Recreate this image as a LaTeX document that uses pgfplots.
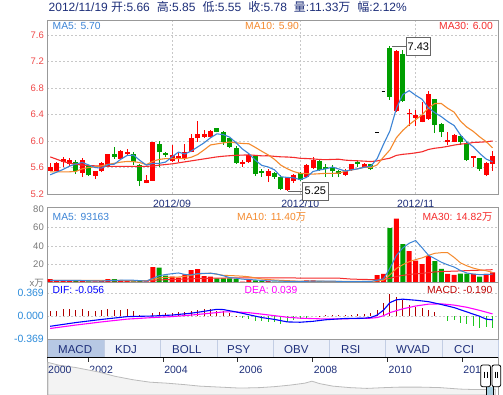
\documentclass[border=0pt]{standalone}
\usepackage{fontspec}
\setmainfont{Liberation Sans}
\newfontfamily\cjk{Noto Sans CJK SC}
\usepackage{pgfplots}
\usepackage{pgfplotstable}
\pgfplotsset{compat=1.18}

\definecolor{navy}{HTML}{1E2F7A}
\definecolor{ma5}{HTML}{3C84D6}
\definecolor{ma10}{HTML}{F58A2D}
\definecolor{ma30}{HTML}{F52C2C}
\definecolor{cred}{HTML}{FF0000}
\definecolor{cgreen}{HTML}{009E00}
\definecolor{pricelab}{HTML}{F04848}
\definecolor{vollab}{HTML}{777777}
\definecolor{macdlab}{HTML}{2D8CDB}
\definecolor{gridc}{HTML}{C8C8C8}
\definecolor{framec}{HTML}{999999}
\definecolor{difc}{HTML}{0000FF}
\definecolor{deac}{HTML}{FF00FF}
\definecolor{histr}{HTML}{B00000}
\definecolor{histg}{HTML}{1DC81D}
\definecolor{tabbg}{HTML}{EDF1FA}
\definecolor{tabsel}{HTML}{B7C8E4}
\definecolor{tabline}{HTML}{C3CEE4}
\definecolor{navline}{HTML}{BBBBBB}
\definecolor{navfill}{HTML}{F3F3F3}
\definecolor{selblue}{HTML}{A8CFE0}

\newcommand{\fs}[1]{\fontsize{#1bp}{#1bp}\selectfont}

\pgfplotstableread{
i ma5 ma10 ma30
0 5.49 5.535 5.76
1 5.53 5.535 5.725
2 5.57 5.535 5.69
3 5.62 5.535 5.665
4 5.652 5.54 5.648
5 5.676 5.58 5.637
6 5.638 5.60 5.63
7 5.600 5.61 5.625
8 5.590 5.625 5.62
9 5.642 5.647 5.618
10 5.650 5.663 5.618
11 5.724 5.681 5.618
12 5.782 5.691 5.618
13 5.786 5.688 5.618
14 5.706 5.674 5.618
15 5.636 5.643 5.618
16 5.662 5.693 5.622
17 5.662 5.722 5.635
18 5.682 5.734 5.645
19 5.760 5.733 5.655
20 5.832 5.734 5.67
21 5.804 5.733 5.685
22 5.848 5.755 5.70
23 5.910 5.796 5.715
24 5.972 5.866 5.73
25 6.048 5.940 5.745
26 6.108 5.956 5.76
27 6.096 5.972 5.77
28 6.058 5.984 5.778
29 5.972 5.972 5.784
30 5.878 5.963 5.787
31 5.808 5.958 5.791
32 5.710 5.903 5.783
33 5.632 5.845 5.776
34 5.608 5.790 5.777
35 5.564 5.721 5.768
36 5.460 5.634 5.761
37 5.450 5.580 5.758
38 5.444 5.538 5.752
39 5.416 5.512 5.739
40 5.452 5.508 5.735
41 5.540 5.500 5.730
42 5.562 5.506 5.721
43 5.580 5.512 5.718
44 5.606 5.511 5.722
45 5.578 5.515 5.725
46 5.546 5.543 5.711
47 5.564 5.563 5.705
48 5.580 5.580 5.701
49 5.604 5.605 5.696
50 5.618 5.598 5.690
51 5.734 5.640 5.699
52 5.952 5.758 5.722
53 6.154 5.867 5.741
54 6.494 6.049 5.783
55 6.702 6.160 5.799
56 6.760 6.247 5.808
57 6.690 6.321 5.821
58 6.630 6.394 5.837
59 6.500 6.499 5.872
60 6.426 6.566 5.891
61 6.368 6.566 5.902
62 6.294 6.494 5.919
63 6.234 6.436 5.938
64 6.090 6.299 5.953
65 5.984 6.209 5.961
66 5.912 6.144 5.978
67 5.812 6.062 5.982
68 5.728 5.990 5.988
69 5.686 5.897 6.000
}\pricema

\pgfplotstableread{
i v5 v10 v30
0 2.5 2.5 2.0
1 2.5 2.5 2.0
2 2.5 2.5 2.0
3 2.6 2.5 2.0
4 2.66 2.5 2.0
5 2.36 2.5 2.0
6 2.16 2.5 2.0
7 1.96 2.5 2.0
8 1.82 2.5 2.0
9 2.26 2.46 2.0
10 2.56 2.46 2.0
11 2.70 2.43 2.0
12 2.76 2.36 2.0
13 2.70 2.26 2.0
14 2.26 2.26 2.0
15 1.76 2.16 2.0
16 4.74 3.72 2.5
17 7.66 5.21 3.0
18 8.88 5.79 3.3
19 9.82 6.04 3.5
20 10.62 6.19 3.7
21 9.02 6.88 3.9
22 8.50 8.08 4.2
23 9.96 9.42 4.5
24 10.12 9.97 4.7
25 10.32 10.47 4.9
26 9.44 9.23 5.0
27 7.62 8.06 5.1
28 5.58 7.77 5.2
29 4.92 7.52 5.34
30 3.84 7.08 5.24
31 3.48 6.46 5.26
32 3.04 5.33 5.26
33 2.46 4.02 5.23
34 2.02 3.47 5.23
35 2.02 2.93 5.19
36 1.66 2.57 5.17
37 1.46 2.25 5.17
38 1.40 1.93 5.16
39 1.26 1.64 5.07
40 1.54 1.78 5.02
41 1.82 1.74 5.03
42 1.82 1.64 5.02
43 1.74 1.57 5.00
44 1.74 1.50 4.98
45 1.46 1.50 4.97
46 1.18 1.50 4.43
47 1.18 1.50 3.94
48 1.26 1.50 3.73
49 1.34 1.54 3.57
50 1.34 1.40 3.42
51 2.72 1.99 3.40
52 4.32 2.79 3.25
53 15.92 8.63 4.74
54 29.70 15.52 6.83
55 37.88 19.61 8.01
56 43.10 22.95 9.01
57 46.00 25.20 9.65
58 38.16 27.08 10.17
59 29.96 29.83 11.00
60 26.26 32.07 11.75
61 22.36 32.73 12.15
62 19.48 32.74 12.39
63 17.12 27.64 12.61
64 13.28 21.62 12.88
65 10.54 18.40 13.17
66 9.44 15.90 13.45
67 8.82 14.15 13.62
68 9.02 13.07 13.88
69 9.33 11.30 14.22
}\volma

\pgfplotsset{
  panel/.style={scale only axis, width=451bp, xmin=-0.5, xmax=69.85,
    axis line style={draw=framec, line width=0.8bp},
    major tick length=0pt,
    grid style={draw=gridc, line width=0.6bp, dash pattern=on 2bp off 2bp},
    clip mode=individual,
    yticklabel style={inner sep=0pt, xshift=-3bp, anchor=east},
    unbounded coords=jump},
}

\begin{document}
\begin{tikzpicture}
\path[use as bounding box] (0,0) rectangle (503bp,-395bp);
\fill[white] (0,0) rectangle (503bp,-395bp);

% title
\node[anchor=base west, inner sep=0pt, text=navy, font=\fs{12}] at (48.5bp,-11.7bp)
 {2012/11/19 {\cjk 开}:5.66\hspace{7bp}{\cjk 高}:5.85\hspace{7bp}{\cjk 低}:5.55\hspace{7bp}{\cjk 收}:5.78\hspace{7bp}{\cjk 量}:11.33{\cjk 万}\hspace{7bp}{\cjk 幅}:2.12\%};

% ---------------- price panel
\begin{axis}[panel, at={(47bp,-194bp)}, anchor=south west, height=174bp,
  ymin=5.2, ymax=7.826,
  ytick={5.2,5.6,6.0,6.4,6.8,7.2,7.6}, yticklabels={5.2,5.6,6.0,6.4,6.8,7.2,7.6},
  yticklabel style={font=\fs{9.5}, text=pricelab},
  xtick={19,39,57}, xticklabels={2012/09,2012/10,2012/11},
  xticklabel style={font=\fs{10.5}, text=navy, inner sep=0pt, anchor=base, yshift=-13bp},
  xmajorgrids, ymajorgrids]
% red wicks
\addplot[cred, line width=1bp] coordinates {
(0,5.55)(0,5.67)(0,nan)(1,5.54)(1,5.68)(1,nan)(2,5.61)(2,5.76)(2,nan)(3,5.62)(3,5.75)(3,nan)
(5,5.46)(5,5.74)(5,nan)(7,5.43)(7,5.54)(7,nan)(8,5.53)(8,5.68)(8,nan)(9,5.60)(9,5.81)(9,nan)
(11,5.71)(11,5.87)(11,nan)(12,5.77)(12,5.88)(12,nan)(15,5.36)(15,5.49)(15,nan)(16,5.40)(16,5.98)(16,nan)
(19,5.68)(19,5.94)(19,nan)(20,5.68)(20,5.83)(20,nan)(21,5.71)(21,5.96)(21,nan)(22,5.83)(22,6.11)(22,nan)
(23,5.99)(23,6.30)(23,nan)(24,6.05)(24,6.17)(24,nan)(25,6.04)(25,6.16)(25,nan)(30,5.61)(30,5.72)(30,nan)
(31,5.67)(31,5.82)(31,nan)(34,5.38)(34,5.57)(34,nan)(37,5.25)(37,5.46)(37,nan)(38,5.37)(38,5.50)(38,nan)
(40,5.44)(40,5.66)(40,nan)(41,5.57)(41,5.76)(41,nan)(46,5.47)(46,5.57)(46,nan)(47,5.55)(47,5.66)(47,nan)
(49,5.59)(49,5.67)(49,nan)(54,6.44)(54,7.37)(54,nan)(56,6.22)(56,6.49)(56,nan)(57,6.22)(57,6.47)(57,nan)
(58,6.28)(58,6.59)(58,nan)(59,6.32)(59,6.76)(59,nan)(62,5.94)(62,6.13)(62,nan)(63,5.98)(63,6.11)(63,nan)
(66,5.61)(66,5.77)(66,nan)(68,5.47)(68,5.69)(68,nan)(69,5.55)(69,5.85)};
% red bodies
\addplot[cred, line width=5bp] coordinates {
(0,5.55)(0,5.60)(0,nan)(1,5.55)(1,5.67)(1,nan)(2,5.68)(2,5.73)(2,nan)(3,5.66)(3,5.72)(3,nan)
(5,5.52)(5,5.72)(5,nan)(7,5.47)(7,5.54)(7,nan)(8,5.54)(8,5.67)(8,nan)(9,5.60)(9,5.80)(9,nan)
(11,5.73)(11,5.85)(11,nan)(12,5.80)(12,5.83)(12,nan)(15,5.37)(15,5.41)(15,nan)(16,5.40)(16,5.98)(16,nan)
(19,5.70)(19,5.79)(19,nan)(20,5.73)(20,5.77)(20,nan)(21,5.73)(21,5.84)(21,nan)(22,5.84)(22,6.05)(22,nan)
(23,6.04)(23,6.10)(23,nan)(24,6.06)(24,6.10)(24,nan)(25,6.06)(25,6.15)(25,nan)(30,5.66)(30,5.68)(30,nan)
(31,5.68)(31,5.79)(31,nan)(34,5.47)(34,5.55)(34,nan)(37,5.26)(37,5.45)(37,nan)(38,5.39)(38,5.49)(38,nan)
(40,5.46)(40,5.64)(40,nan)(41,5.59)(41,5.71)(41,nan)(46,5.49)(46,5.55)(46,nan)(47,5.56)(47,5.65)(47,nan)
(49,5.60)(49,5.66)(49,nan)(54,6.46)(54,7.36)(54,nan)(56,6.40)(56,6.42)(56,nan)(57,6.34)(57,6.39)(57,nan)
(58,6.29)(58,6.39)(58,nan)(59,6.33)(59,6.71)(59,nan)(62,5.99)(62,6.02)(62,nan)(63,5.99)(63,6.09)(63,nan)
(66,5.74)(66,5.77)(66,nan)(68,5.49)(68,5.67)(68,nan)(69,5.66)(69,5.78)};
% green wicks
\addplot[cgreen, line width=1bp] coordinates {
(4,5.50)(4,5.71)(4,nan)(6,5.47)(6,5.63)(6,nan)(10,5.73)(10,5.91)(10,nan)(13,5.64)(13,5.83)(13,nan)
(14,5.32)(14,5.66)(14,nan)(17,5.61)(17,6.00)(17,nan)(18,5.76)(18,5.84)(18,nan)(26,6.13)(26,6.20)(26,nan)
(27,5.94)(27,6.15)(27,nan)(28,5.89)(28,6.05)(28,nan)(29,5.66)(29,5.93)(29,nan)(32,5.47)(32,5.78)(32,nan)
(33,5.46)(33,5.57)(33,nan)(35,5.43)(35,5.53)(35,nan)(36,5.26)(36,5.48)(36,nan)(39,5.40)(39,5.53)(39,nan)
(42,5.55)(42,5.71)(42,nan)(43,5.46)(43,5.65)(43,nan)(44,5.46)(44,5.64)(44,nan)(45,5.45)(45,5.56)(45,nan)
(48,5.60)(48,5.71)(48,nan)(50,5.56)(50,5.66)(50,nan)(53,6.62)(53,7.43)(53,nan)(55,6.59)(55,7.38)(55,nan)
(60,6.12)(60,6.64)(60,nan)(61,6.06)(61,6.27)(61,nan)(64,5.94)(64,6.11)(64,nan)(65,5.70)(65,5.98)(65,nan)
(67,5.55)(67,5.75)};
% green bodies
\addplot[cgreen, line width=5bp] coordinates {
(4,5.54)(4,5.68)(4,nan)(6,5.48)(6,5.62)(6,nan)(10,5.76)(10,5.80)(10,nan)(13,5.69)(13,5.81)(13,nan)
(14,5.40)(14,5.64)(14,nan)(17,5.83)(17,5.96)(17,nan)(18,5.79)(18,5.82)(18,nan)(26,6.14)(26,6.19)(26,nan)
(27,5.99)(27,6.14)(27,nan)(28,5.91)(28,6.04)(28,nan)(29,5.67)(29,5.90)(29,nan)(32,5.50)(32,5.77)(32,nan)
(33,5.52)(33,5.54)(33,nan)(35,5.46)(35,5.51)(35,nan)(36,5.27)(36,5.46)(36,nan)(39,5.41)(39,5.51)(39,nan)
(42,5.56)(42,5.70)(42,nan)(43,5.58)(43,5.60)(43,nan)(44,5.54)(44,5.61)(44,nan)(45,5.50)(45,5.54)(45,nan)
(48,5.66)(48,5.68)(48,nan)(50,5.57)(50,5.65)(50,nan)(53,6.67)(53,7.41)(53,nan)(55,6.61)(55,7.32)(55,nan)
(60,6.24)(60,6.63)(60,nan)(61,6.13)(61,6.26)(61,nan)(64,5.99)(64,6.08)(64,nan)(65,5.71)(65,5.97)(65,nan)
(67,5.57)(67,5.74)};
% one-price limit-up days
\addplot[black, line width=1bp] coordinates {(50.7,6.13)(51.3,6.13)(51,nan)(51.7,6.74)(52.3,6.74)};
% moving averages
\addplot[ma30, line width=1.1bp] table[x=i, y=ma30] {\pricema};
\addplot[ma10, line width=1.1bp] table[x=i, y=ma10] {\pricema};
\addplot[ma5, line width=1.1bp] table[x=i, y=ma5] {\pricema};
% max / min annotations
\draw[black!60, line width=0.8bp] (axis cs:53.3,7.43) -- (axis cs:55.5,7.43);
\node[draw=black!60, line width=0.8bp, fill=white, anchor=west, inner sep=0pt, minimum width=24bp, minimum height=18bp, font=\fs{11}] at (axis cs:55.5,7.43) {7.43};
\draw[black!60, line width=0.8bp] (axis cs:37.1,5.243) -- (axis cs:39.3,5.243);
\node[draw=black!60, line width=0.8bp, fill=white, anchor=west, inner sep=0pt, minimum width=25.6bp, minimum height=17.7bp, font=\fs{11}] at (axis cs:39.3,5.243) {5.25};
\end{axis}

\node[anchor=base west, inner sep=0pt, text=ma5, font=\fs{10.3}] at (52.5bp,-29.3bp) {MA5: 5.70};
\node[anchor=base west, inner sep=0pt, text=ma10, font=\fs{10.3}] at (245bp,-29.3bp) {MA10: 5.90};
\node[anchor=base east, inner sep=0pt, text=ma30, font=\fs{10.3}] at (493bp,-29.3bp) {MA30: 6.00};

% ---------------- volume panel
\begin{axis}[panel, at={(47bp,-282.7bp)}, anchor=south west, height=75bp,
  ymin=0, ymax=81.8,
  ytick={20,40,60}, yticklabels={20,40,60},
  yticklabel style={font=\fs{9.5}, text=vollab},
  xtick={19,39,57}, xticklabels={},
  xmajorgrids, ymajorgrids]
\addplot[ybar, bar width=5bp, bar shift=0pt, fill=cred, draw=none] coordinates {
(0,4.0)(1,2.5)(2,2.5)(3,2.5)(5,2.5)(7,1.5)(8,1.8)(9,4.0)(11,2.2)(12,1.8)(15,1.5)(16,17.1)
(19,6.5)(20,5.5)(21,9.1)(22,13.8)(23,14.9)(24,7.3)(25,6.5)(30,1.1)(31,2.9)(34,1.8)(37,1.5)(38,1.5)
(40,2.5)(41,2.5)(46,1.1)(47,1.5)(49,1.5)(51,8.4)(52,9.5)(54,70)(56,34.5)(57,24)(58,20.3)(59,29)
(62,9.6)(63,8.5)(66,9.5)(68,9.5)(69,11.33)};
\addplot[ybar, bar width=5bp, bar shift=0pt, fill=cgreen, draw=none] coordinates {
(4,1.8)(6,1.5)(10,4.0)(13,1.5)(14,1.8)(17,16.4)(18,7.6)(26,4.7)(27,4.7)(28,4.7)(29,4.0)(32,2.5)
(33,1.8)(35,1.1)(36,1.1)(39,1.1)(42,1.5)(43,1.1)(44,1.1)(45,1.1)(48,1.5)(50,1.1)(53,59.5)(55,42)
(60,23.5)(61,15)(64,9.8)(65,9.8)(67,6.5)};
\addplot[ma30, line width=1bp] table[x=i, y=v30] {\volma};
\addplot[ma10, line width=1bp] table[x=i, y=v10] {\volma};
\addplot[ma5, line width=1bp] table[x=i, y=v5] {\volma};
\end{axis}

\node[anchor=east, inner sep=0pt, text=vollab, font=\fs{9.5}] at (44bp,-209bp) {80};
\node[anchor=east, inner sep=0pt, text=vollab, font=\fs{9.5}] at (44bp,-283bp) {x{\cjk 万}};
\node[anchor=base west, inner sep=0pt, text=ma5, font=\fs{10.3}] at (52.5bp,-220.7bp) {MA5: 93163};
\node[anchor=base west, inner sep=0pt, text=ma10, font=\fs{10.3}] at (237bp,-220.7bp) {MA10: 11.40{\cjk 万}};
\node[anchor=base east, inner sep=0pt, text=ma30, font=\fs{10.3}] at (492.5bp,-220.7bp) {MA30: 14.82{\cjk 万}};

% ---------------- MACD panel
\begin{axis}[panel, at={(47bp,-339.5bp)}, anchor=south west, height=56.8bp,
  ymin=-0.372, ymax=0.539,
  ytick={-0.369,0,0.369}, yticklabels={-0.369,0.000,0.369},
  yticklabel style={font=\fs{10.5}, text=macdlab},
  xtick=\empty, ymajorgrids]
\addplot[ycomb, histr, line width=1bp] coordinates {
(0,.08)(1,.09)(2,.118)(3,.118)(4,.107)(5,.118)(6,.091)(7,.091)(8,.10)(9,.118)(10,.10)(11,.107)
(12,.118)(13,.091)(14,.02)(16,.053)(17,.064)(18,.053)(19,.053)(20,.064)(21,.075)(22,.091)(23,.10)
(24,.118)(25,.118)(26,.091)(27,.08)(28,.053)(29,.01)(42,.01)(43,.02)(44,.02)(45,.02)(46,.02)(47,.02)
(48,.037)(49,.037)(50,.048)(51,.10)(52,.209)(53,.358)(54,.315)(55,.262)(56,.187)(57,.155)(58,.134)
(59,.10)(60,.064)};
\addplot[ycomb, histg, line width=1bp] coordinates {
(30,-.032)(31,-.043)(32,-.08)(33,-.08)(34,-.096)(35,-.096)(36,-.123)(37,-.096)(38,-.059)(39,-.043)
(40,-.032)(62,-.07)(63,-.059)(64,-.112)(65,-.123)(66,-.15)(67,-.193)(68,-.176)(69,-.19)};
\addplot[deac, line width=1.1bp] coordinates {
(0,-0.195)(4,-0.14)(8,-0.09)(12,-0.045)(16,-0.02)(19,-0.005)(22,0.02)(25,0.05)(27,0.07)(29,0.07)
(31,0.058)(33,0.035)(35,0.01)(37,-0.015)(39,-0.03)(42,-0.04)(46,-0.04)(50,-0.03)(51,-0.02)(52,0.01)
(53,0.06)(55,0.12)(57,0.165)(59,0.195)(61,0.2)(63,0.18)(65,0.145)(67,0.095)(69,0.039)};
\addplot[difc, line width=1.1bp] coordinates {
(0,-0.16)(4,-0.10)(8,-0.05)(12,-0.005)(16,0.005)(19,0.02)(22,0.05)(24,0.08)(26,0.112)(27,0.108)
(29,0.07)(31,0.025)(33,-0.02)(35,-0.05)(37,-0.09)(39,-0.095)(41,-0.08)(43,-0.055)(46,-0.035)(49,-0.03)
(50,-0.02)(51,0.02)(52,0.10)(53,0.22)(54,0.265)(55,0.275)(57,0.258)(59,0.235)(61,0.19)(63,0.14)
(65,0.07)(67,0.0)(68,-0.045)(69,-0.056)};
\end{axis}

\node[anchor=base west, inner sep=0pt, text=difc, font=\fs{10.3}] at (52.5bp,-293bp) {DIF: -0.056};
\node[anchor=base west, inner sep=0pt, text=deac, font=\fs{10.3}] at (244.5bp,-293bp) {DEA: 0.039};
\node[anchor=base east, inner sep=0pt, text=histr!80!red, font=\fs{10.3}] at (492.5bp,-293bp) {MACD: -0.190};

% ---------------- tabs
\fill[tabbg] (47bp,-340bp) rectangle (498bp,-357.5bp);
\fill[tabsel] (47bp,-340bp) rectangle (104bp,-357.5bp);
\foreach \x in {104,160,217,273,329,385,442,498}
  \draw[tabline, line width=0.8bp] (\x bp,-340bp) -- (\x bp,-357.5bp);
\draw[framec, line width=0.8bp] (47bp,-340bp) -- (47bp,-357.5bp);
\foreach \x/\t in {58/MACD,115/KDJ,172/BOLL,227/PSY,284/OBV,341/RSI,396/WVAD,454/CCI}
  \node[anchor=base west, inner sep=0pt, text=navy, font=\fs{11.5}] at (\x bp,-353.3bp) {\t};

% ---------------- navigator
\begin{axis}[at={(47bp,-395bp)}, anchor=south west, scale only axis, width=451bp, height=37.5bp,
  xmin=2000.896, xmax=2012.955, ymin=0, ymax=38,
  axis line style={draw=framec, line width=0.8bp},
  ytick=\empty,
  xtick={2002,2004,2006,2008,2010,2012}, xticklabels={2002,2004,2006,2008,2010,2012},
  xtick pos=right, xticklabel pos=right, tick align=inside, major tick length=4bp,
  tick style={draw=black!80, line width=0.8bp},
  xticklabel style={anchor=base west, inner sep=0pt, font=\fs{10.5}, text=navy, yshift=-15.8bp, xshift=1bp}]
\addplot[draw=navline, fill=navfill, line width=0.8bp] coordinates {
(2000.92,33)(2001.24,30)(2001.64,28)(2002.05,25)(2002.31,23)(2002.71,19)(2003.19,15.5)(2003.65,13)
(2004.10,12)(2004.58,10.5)(2004.98,9)(2005.52,8)(2006.06,7)(2006.59,7.5)(2006.99,8.5)(2007.39,10)
(2007.79,12)(2007.98,14)(2008.19,11.5)(2008.54,9)(2008.99,7.5)(2009.45,6.7)(2009.93,7.5)(2010.33,8)
(2010.87,8)(2011.40,7.5)(2011.94,6)(2012.34,5.5)(2012.74,5.7)(2012.88,6)} \closedcycle;
\draw[black, line width=1bp] (rel axis cs:0,1) -- (rel axis cs:1,1);
\end{axis}
\node[anchor=base west, inner sep=0pt, text=navy, font=\fs{10.5}] at (48bp,-373.3bp) {2000};

% navigator handles
\fill[selblue] (486.5bp,-387bp) rectangle (493bp,-395bp);
\draw[black, line width=0.6bp] (486.5bp,-387bp) -- (486.5bp,-395bp) (493bp,-387bp) -- (493bp,-395bp);
\draw[black, fill=white, rounded corners=2bp, line width=0.8bp] (480.7bp,-365bp) rectangle (490.5bp,-386.7bp);
\draw[black, line width=0.6bp] (484bp,-371.7bp) -- (484bp,-378.3bp) (487bp,-371.7bp) -- (487bp,-378.3bp);
\draw[black, fill=white, rounded corners=2bp, line width=0.8bp] (492bp,-365bp) rectangle (500.7bp,-386.7bp);
\draw[black, line width=0.6bp] (494.8bp,-371.7bp) -- (494.8bp,-378.3bp) (497.6bp,-371.7bp) -- (497.6bp,-378.3bp);
\end{tikzpicture}
\end{document}
